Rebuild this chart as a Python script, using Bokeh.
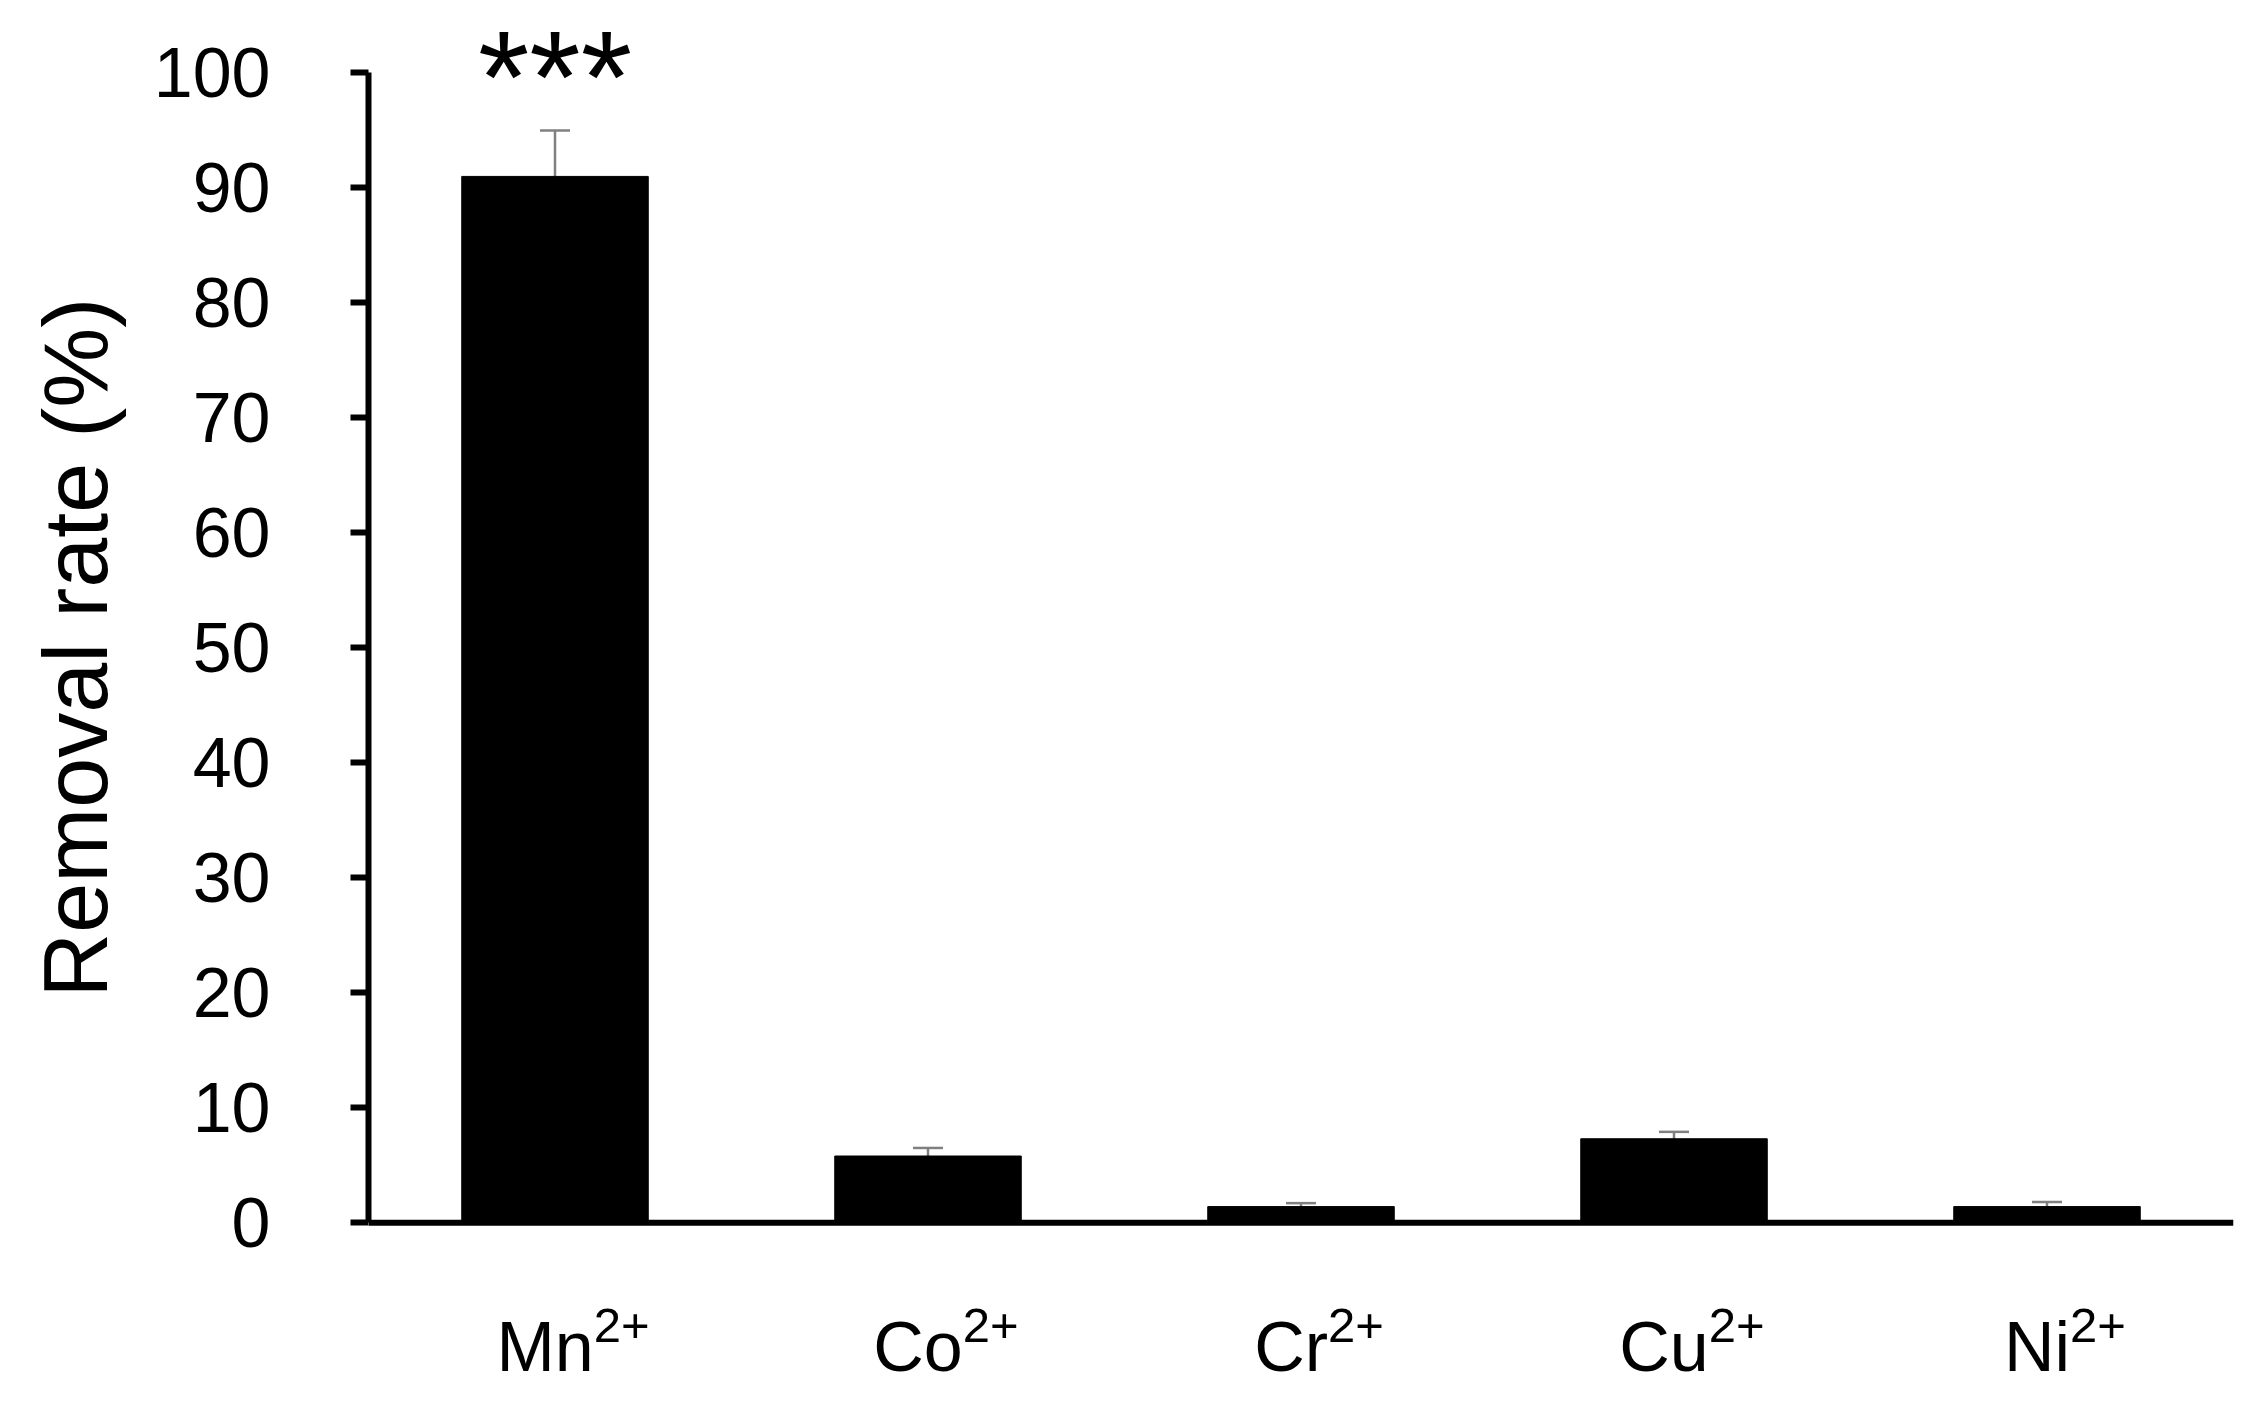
from bokeh.plotting import figure
from bokeh.models import (ColumnDataSource, Whisker, TeeHead, LabelSet, Title,
                          FactorRange, Range1d, FixedTicker, Span)
from bokeh.core.properties import value
from bokeh.embed import file_html
from bokeh.resources import INLINE

# ---- data ----
ions = ["Mn", "Co", "Cr", "Cu", "Ni"]
charges = ["2+", "2+", "2+", "2+", "2+"]
removal_rate = [91.0, 5.8, 1.4, 7.3, 1.4]
removal_err = [4.0, 0.7, 0.3, 0.6, 0.4]
significance = ["***", "", "", "", ""]
y_ticks = [0, 10, 20, 30, 40, 50, 60, 70, 80, 90, 100]
y_label = "Removal rate (%)"

# ---- layout / style ----
FONT = "Liberation Sans"
BASE_PX = 70
SUP_PX = 49
H = 1405
Y_MIN, Y_MAX = -15.9, 106.3          # frame spans the full height; axis drawn 0-100
PX_PER_UNIT = H / (Y_MAX - Y_MIN)

# approximate Arial advance widths (em) used to place the superscripts
W = {"M": .833, "n": .556, "C": .722, "o": .556, "r": .333, "u": .556,
     "N": .722, "i": .222, "2": .556, "+": .584, " ": .278, "(": .333,
     ")": .333, "%": .889, "R": .722, "e": .556, "m": .833, "v": .5,
     "a": .556, "l": .222, "t": .278}


def width(s, px):
    return sum(W.get(ch, .556) for ch in s) * px


label_shift = 18
bx = []
for a, b in zip(ions, charges):
    wb, ws = width(a, BASE_PX), width(b, SUP_PX)
    bx.append(-(wb + ws) / 2 + wb + label_shift)

src = ColumnDataSource(dict(
    ion=ions, val=removal_rate, err=removal_err,
    upper=[v + e for v, e in zip(removal_rate, removal_err)],
    lower=[v - e for v, e in zip(removal_rate, removal_err)],
    charge=charges, bx=bx,
))
sig_rows = [i for i, s in enumerate(significance) if s]
sig_src = ColumnDataSource(dict(
    ion=[ions[i] for i in sig_rows],
    upper=[removal_rate[i] + removal_err[i] for i in sig_rows],
    sig=[significance[i] for i in sig_rows],
))

p = figure(x_range=FactorRange(*ions), y_range=Range1d(Y_MIN, Y_MAX),
           width=2257, height=H, output_backend="svg",
           toolbar_location=None, x_axis_location=None,
           min_border_left=368, min_border_right=24,
           min_border_top=0, min_border_bottom=0)
p.outline_line_color = None
p.grid.visible = False
p.background_fill_color = "white"
p.border_fill_color = "white"

# bars
p.vbar(x="ion", top="val", width=0.5, source=src,
       fill_color="black", line_color="black", line_width=1)

# error bars (upper part visible above the bar)
err_col = "#808080"
p.add_layout(Whisker(source=src, base="ion", upper="upper", lower="lower",
                     line_color=err_col, line_width=2.5, level="underlay",
                     upper_head=TeeHead(size=30, line_color=err_col,
                                        line_width=2.5),
                     lower_head=None))

# x axis line at y = 0
p.add_layout(Span(location=0, dimension="width", line_color="black",
                  line_width=6))

# significance stars
p.add_layout(LabelSet(x="ion", y="upper", text="sig", source=sig_src,
                      text_align="center", text_baseline="middle",
                      y_offset=53, text_font=value(FONT),
                      text_font_size="132px", text_color="black"))

# category labels with superscript charges
p.add_layout(LabelSet(x="ion", y=0, text="ion", source=src,
                      x_offset="bx", y_offset=-85,
                      text_align="right", text_baseline="top",
                      text_font=value(FONT), text_font_size=f"{BASE_PX}px",
                      text_color="black"))
p.add_layout(LabelSet(x="ion", y=0, text="charge", source=src,
                      x_offset="bx", y_offset=-86,
                      text_align="left", text_baseline="top",
                      text_font=value(FONT), text_font_size=f"{SUP_PX}px",
                      text_color="black"))

# y axis (drawn from 0 to 100 only)
ya = p.yaxis[0]
ya.bounds = (0, 100)
ya.ticker = FixedTicker(ticks=y_ticks)
ya.axis_line_width = 6
ya.axis_line_color = "black"
ya.major_tick_line_width = 6
ya.major_tick_line_color = "black"
ya.major_tick_out = 18
ya.major_tick_in = 0
ya.minor_tick_line_color = None
ya.major_label_text_font = FONT
ya.major_label_text_font_size = "70px"
ya.major_label_text_color = "black"
ya.major_label_standoff = 80

# y axis title, centred on the 0-100 span of the axis
mid_from_bottom = (50 - Y_MIN) * PX_PER_UNIT
p.add_layout(Title(text=y_label, align="left", vertical_align="top",
                   offset=mid_from_bottom - width(y_label, 90) / 2,
                   text_font=FONT, text_font_size="90px",
                   text_font_style="normal", text_color="black",
                   standoff=46), "left")

open("out.html", "w").write(file_html(p, INLINE))
